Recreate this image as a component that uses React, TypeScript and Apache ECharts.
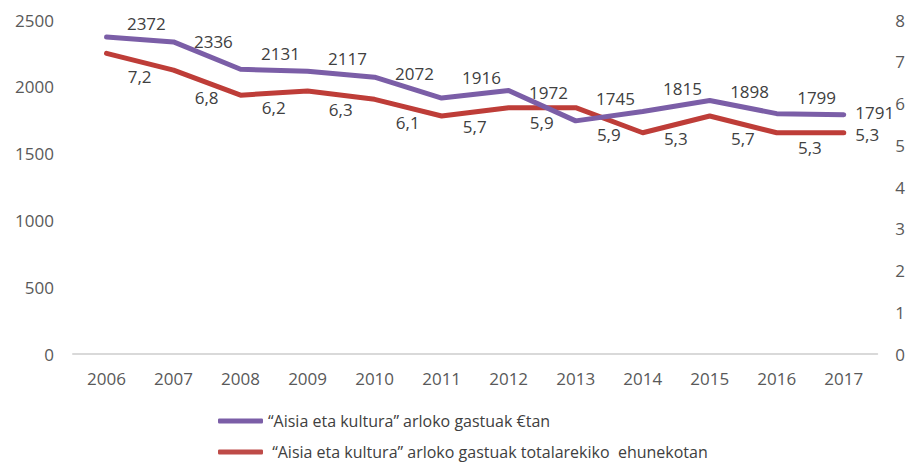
import React, { useEffect, useRef } from "react";
import * as echarts from "echarts";

const years = ["2006", "2007", "2008", "2009", "2010", "2011", "2012", "2013", "2014", "2015", "2016", "2017"];
const spendingEuro = [2372, 2336, 2131, 2117, 2072, 1916, 1972, 1745, 1815, 1898, 1799, 1791];
const spendingPct = [7.2, 6.8, 6.2, 6.3, 6.1, 5.7, 5.9, 5.9, 5.3, 5.7, 5.3, 5.3];
const seriesNames = [
  "\u201CAisia eta kultura\u201D arloko gastuak \u20ACtan",
  " \u201CAisia eta kultura\u201D arloko gastuak totalarekiko  ehunekotan",
];
const leftMax = 2500;
const leftInterval = 500;
const rightMax = 8;
const rightInterval = 1;

const GRID_LEFT = 73;
const GRID_RIGHT = 28;
const GRID_TOP = 20;
const GRID_BOTTOM = 109;
const WIDTH = 908;
const HEIGHT = 463;
const PLOT_H = HEIGHT - GRID_TOP - GRID_BOTTOM;
const CAT_W = (WIDTH - GRID_LEFT - GRID_RIGHT) / years.length;

const FONT = "'Open Sans', 'Noto Sans', sans-serif";

function buildData(
  values: number[],
  max: number,
  frac: number,
  gap: number,
  fmt: (v: number) => string
) {
  const pxPerUnit = PLOT_H / max;
  return values.map((v, i) => {
    const last = i === values.length - 1;
    if (last) {
      return {
        value: v,
        label: {
          show: true,
          position: [12, Math.sign(gap) * 2],
          align: "left",
          verticalAlign: "middle",
          formatter: fmt(v),
        },
      };
    }
    const dy = -(values[i + 1] - v) * pxPerUnit * frac;
    return {
      value: v,
      label: {
        show: true,
        position: [CAT_W * frac, dy + gap],
        align: "center",
        verticalAlign: "middle",
        formatter: fmt(v),
      },
    };
  });
}

export default function App() {
  const ref = useRef<HTMLDivElement>(null);
  useEffect(() => {
    if (!ref.current) return;
    const chart = echarts.init(ref.current, undefined, { renderer: "svg" });
    const labelStyle = {
      show: true,
      color: "#404040",
      fontSize: 17,
      lineHeight: 16,
      fontFamily: FONT,
    };
    chart.setOption({
      animation: false,
      backgroundColor: "#ffffff",
      textStyle: { fontFamily: FONT },
      grid: { left: GRID_LEFT, right: GRID_RIGHT, top: GRID_TOP, bottom: GRID_BOTTOM, containLabel: false },
      legend: {
        orient: "vertical",
        left: 218,
        top: 413,
        itemWidth: 45,
        itemHeight: 5,
        itemGap: 15,
        padding: 0,
        icon: "roundRect",
        textStyle: { color: "#404040", fontSize: 16, fontFamily: FONT, lineHeight: 16 },
        data: seriesNames,
      },
      xAxis: {
        type: "category",
        data: years,
        boundaryGap: true,
        axisLine: { show: true, lineStyle: { color: "#d9d9d9", width: 2 } },
        axisTick: { show: false },
        axisLabel: { color: "#595959", fontSize: 17, fontFamily: FONT, margin: 16 },
        splitLine: { show: false },
      },
      yAxis: [
        {
          type: "value",
          min: 0,
          max: leftMax,
          interval: leftInterval,
          axisLine: { show: false },
          axisTick: { show: false },
          splitLine: { show: false },
          axisLabel: { color: "#595959", fontSize: 17, fontFamily: FONT, margin: 19, formatter: (v: number) => String(v) },
        },
        {
          type: "value",
          min: 0,
          max: rightMax,
          interval: rightInterval,
          axisLine: { show: false },
          axisTick: { show: false },
          splitLine: { show: false },
          axisLabel: { color: "#595959", fontSize: 17, fontFamily: FONT, margin: 18, formatter: (v: number) => String(v) },
        },
      ],
      series: [
        {
          name: seriesNames[0],
          type: "line",
          yAxisIndex: 0,
          symbol: "circle",
          symbolSize: 1,
          showSymbol: true,
          lineStyle: { color: "#7B5EA7", width: 5, cap: "round", join: "round" },
          itemStyle: { color: "#7B5EA7" },
          label: labelStyle,
          labelLayout: { hideOverlap: false },
          data: buildData(spendingEuro, leftMax, 0.6, -16, (v) => String(v)),
          z: 3,
        },
        {
          name: seriesNames[1],
          type: "line",
          yAxisIndex: 1,
          symbol: "circle",
          symbolSize: 1,
          showSymbol: true,
          lineStyle: { color: "#BE3D38", width: 5, cap: "round", join: "round" },
          itemStyle: { color: "#BE4B48" },
          label: labelStyle,
          labelLayout: { hideOverlap: false },
          data: buildData(spendingPct, rightMax, 0.5, 15, (v) => v.toFixed(1).replace(".", ",")),
          z: 2,
        },
      ],
    });
    return () => chart.dispose();
  }, []);
  return <div ref={ref} style={{ width: WIDTH, height: HEIGHT, position: "absolute", left: 0, top: 0 }} />;
}
